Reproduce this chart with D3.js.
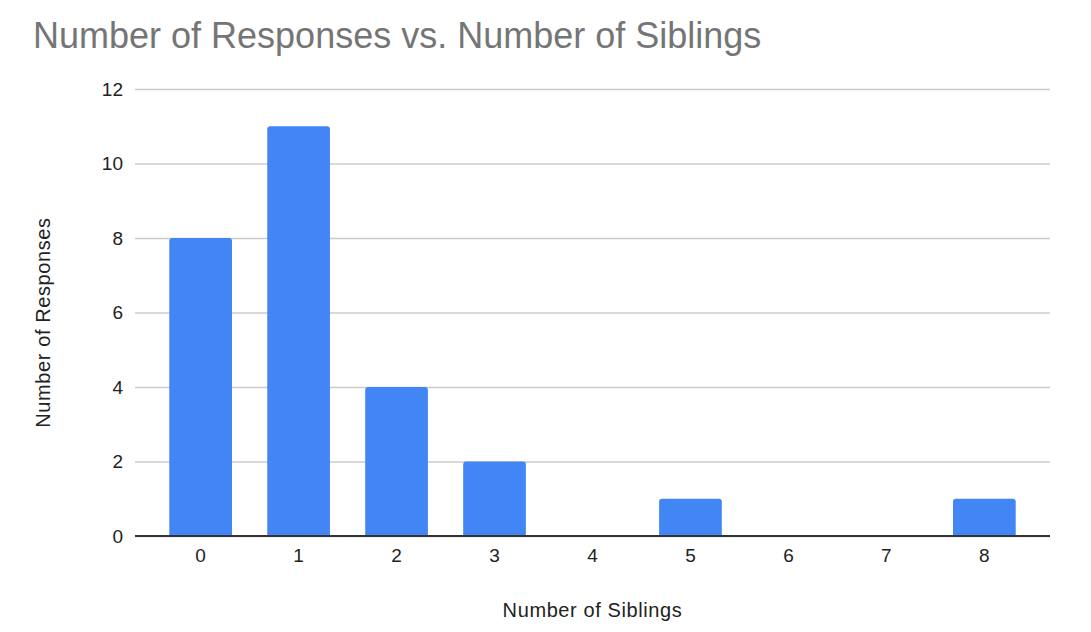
<!DOCTYPE html>
<html>
<head>
<meta charset="utf-8">
<script src="https://cdn.jsdelivr.net/npm/d3@7"></script>
<style>
  body { margin: 0; background: #fff; }
  svg { font-family: Arial, "Liberation Sans", sans-serif; }
</style>
</head>
<body>
<svg id="chart" width="1091" height="632"></svg>
<script>
// Data
const siblings = ["0", "1", "2", "3", "4", "5", "6", "7", "8"];
const responses = [8, 11, 4, 2, 0, 1, 0, 0, 1];
const yTicks = [0, 2, 4, 6, 8, 10, 12];

const svg = d3.select("#chart");
const margin = { top: 89, right: 41, bottom: 96, left: 135 };
const width = 1091, height = 632;
const innerWidth = width - margin.left - margin.right;
const innerHeight = height - margin.top - margin.bottom;

const g = svg.append("g")
    .attr("transform", `translate(${margin.left},${margin.top})`);

// scales
const xScale = d3.scaleBand()
    .domain(siblings)
    .range([0, innerWidth])
    .paddingInner(0.36)
    .paddingOuter(0.35);

const yScale = d3.scaleLinear()
    .domain([0, 12])
    .range([innerHeight, 0]);

// grid + y labels
const yAxis = g.append("g")
    .call(d3.axisLeft(yScale).tickValues(yTicks).tickSize(-innerWidth).tickPadding(12));
yAxis.select(".domain").remove();
yAxis.selectAll(".tick line")
    .attr("stroke", "#cccccc")
    .attr("stroke-width", 1.3);
yAxis.selectAll(".tick text")
    .attr("fill", "#222")
    .style("font-size", "19px");

// bars
g.selectAll("path.bar")
    .data(siblings.map((s, i) => ({ s, v: responses[i] })).filter(d => d.v > 0))
    .enter()
    .append("path")
    .attr("class", "bar")
    .attr("fill", "#4285f4")
    .attr("d", d => {
        const x0 = xScale(d.s), w = xScale.bandwidth();
        const y0 = yScale(d.v), y1 = yScale(0);
        const r = 3;
        return `M${x0},${y1}V${y0 + r}Q${x0},${y0} ${x0 + r},${y0}H${x0 + w - r}Q${x0 + w},${y0} ${x0 + w},${y0 + r}V${y1}Z`;
    });

// x axis
const xAxis = g.append("g")
    .attr("transform", `translate(0,${innerHeight})`)
    .call(d3.axisBottom(xScale).tickSize(0).tickPadding(13));
xAxis.select(".domain")
    .attr("stroke", "#333")
    .attr("stroke-width", 2)
    .attr("d", `M0,0H${innerWidth}`);
xAxis.selectAll(".tick text")
    .attr("fill", "#222")
    .style("font-size", "19px");

// titles
svg.append("text")
    .attr("x", 33)
    .attr("y", 48)
    .attr("fill", "#757575")
    .style("font-size", "36px")
    .text("Number of Responses vs. Number of Siblings");

svg.append("text")
    .attr("x", margin.left + innerWidth / 2)
    .attr("y", 617)
    .attr("text-anchor", "middle")
    .attr("fill", "#222")
    .style("font-size", "20px")
    .style("letter-spacing", "0.6px")
    .text("Number of Siblings");

svg.append("text")
    .attr("transform", `translate(50,${margin.top + innerHeight / 2 + 10}) rotate(-90)`)
    .attr("text-anchor", "middle")
    .attr("fill", "#222")
    .style("font-size", "20px")
    .style("letter-spacing", "0.6px")
    .text("Number of Responses");
</script>
</body>
</html>
